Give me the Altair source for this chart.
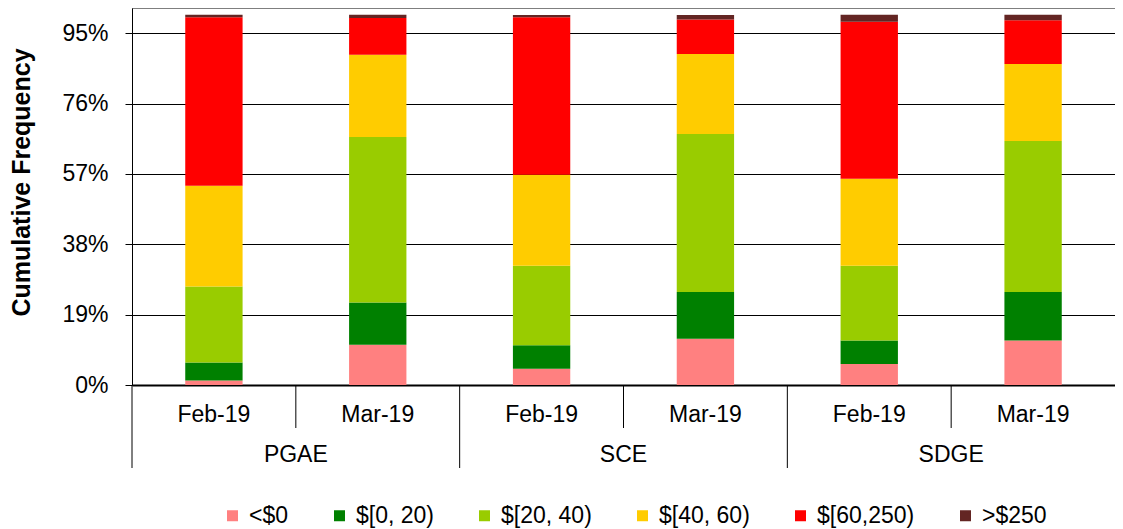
import altair as alt
import pandas as pd

FONT = "Liberation Sans"

groups = ["PGAE", "SCE", "SDGE"]
months = ["Feb-19", "Mar-19"]
series = ["<$0", "$[0, 20)", "$[20, 40)", "$[40, 60)", "$[60,250)", ">$250"]
colors = ["#FF8080", "#008000", "#99CC00", "#FFCC00", "#FF0000", "#632523"]

# percent share of each price bin (bottom to top)
pgae_feb = [1.2, 4.9, 20.5, 27.2, 45.5, 0.7]
pgae_mar = [10.9, 11.4, 44.7, 22.2, 9.9, 0.9]
sce_feb = [4.4, 6.3, 21.5, 24.6, 42.5, 0.6]
sce_mar = [12.5, 12.6, 42.7, 21.6, 9.3, 1.2]
sdge_feb = [5.7, 6.3, 20.2, 23.5, 42.4, 1.9]
sdge_mar = [12.0, 13.1, 40.8, 20.8, 11.8, 1.5]

y_ticks = [0, 0.19, 0.38, 0.57, 0.76, 0.95]
y_max = 1.018

bar_values = {
    ("PGAE", "Feb-19"): pgae_feb,
    ("PGAE", "Mar-19"): pgae_mar,
    ("SCE", "Feb-19"): sce_feb,
    ("SCE", "Mar-19"): sce_mar,
    ("SDGE", "Feb-19"): sdge_feb,
    ("SDGE", "Mar-19"): sdge_mar,
}

rows = []
cats = []
for g in groups:
    for m in months:
        cat = f"{g}|{m}"
        cats.append(cat)
        for i, (s, v) in enumerate(zip(series, bar_values[(g, m)])):
            rows.append(dict(cat=cat, group=g, month=m, series=s, idx=i, value=v / 100))
df = pd.DataFrame(rows)

div_df = pd.DataFrame({
    "cat": cats,
    "kind": ["group" if c.endswith("|" + months[0]) else "month" for c in cats],
})
lab_df = pd.DataFrame({"group": groups, "cat": [f"{g}|{months[1]}" for g in groups]})

W, H = 983, 377
FS = 23
xscale = alt.Scale(domain=cats, paddingInner=0, paddingOuter=0)

bars = alt.Chart(df).mark_bar(width=alt.RelativeBandSize(0.35)).encode(
    x=alt.X(
        "cat:N",
        scale=xscale,
        title=None,
        axis=alt.Axis(
            title=None,
            labelExpr="split(datum.label, '|')[1]",
            ticks=False,
            labelAngle=0,
            labelPadding=18,
            labelFontSize=FS,
            labelColor="black",
            domainColor="black",
            domainWidth=2,
            grid=False,
        ),
    ),
    y=alt.Y(
        "value:Q",
        stack="zero",
        scale=alt.Scale(domain=[0, y_max], nice=False),
        axis=alt.Axis(
            values=y_ticks,
            format=".0%",
            title="Cumulative Frequency",
            titleFontSize=25,
            titleFontWeight="bold",
            titleColor="black",
            titleX=-98,
            titleY=174,
            labelFontSize=FS,
            labelColor="black",
            labelPadding=17,
            tickSize=7,
            tickColor="black",
            domainColor="black",
            grid=True,
            gridColor="black",
            gridWidth=1,
        ),
    ),
    color=alt.Color(
        "series:N",
        scale=alt.Scale(domain=series, range=colors),
        legend=alt.Legend(
            orient="none",
            legendX=89,
            legendY=496,
            direction="horizontal",
            title=None,
            symbolType="square",
            symbolSize=121,
            symbolStrokeWidth=0,
            labelFontSize=FS,
            labelColor="black",
            labelOffset=5,
            columnPadding=39,
            padding=0,
        ),
    ),
    order=alt.Order("idx:Q", sort="ascending"),
)

rules_short = alt.Chart(div_df).transform_filter("datum.kind == 'month'").mark_rule(
    color="black", strokeWidth=1
).encode(
    x=alt.X("cat:N", scale=xscale, bandPosition=0, title=None),
    y=alt.value(H),
    y2=alt.value(H + 43),
)

rules_long = alt.Chart(div_df).transform_filter("datum.kind == 'group'").mark_rule(
    color="black", strokeWidth=1
).encode(
    x=alt.X("cat:N", scale=xscale, bandPosition=0, title=None),
    y=alt.value(H),
    y2=alt.value(H + 83),
)

group_text = alt.Chart(lab_df).mark_text(
    fontSize=FS, color="black", align="center", baseline="middle"
).encode(
    x=alt.X("cat:N", scale=xscale, bandPosition=0, title=None),
    y=alt.value(H + 70),
    text="group:N",
)

top_line = alt.Chart(pd.DataFrame({"k": [0]})).mark_rule(color="black", strokeWidth=1).encode(
    y=alt.value(0)
)

chart = alt.layer(bars, rules_short, rules_long, group_text, top_line).properties(
    width=W,
    height=H,
    padding={"left": 124, "top": 0, "right": 0, "bottom": 144},
    autosize=alt.AutoSizeParams(type="none"),
).configure(font=FONT).configure_view(stroke=None)

chart.save("out.html", embed_options={"renderer": "svg", "actions": False})
